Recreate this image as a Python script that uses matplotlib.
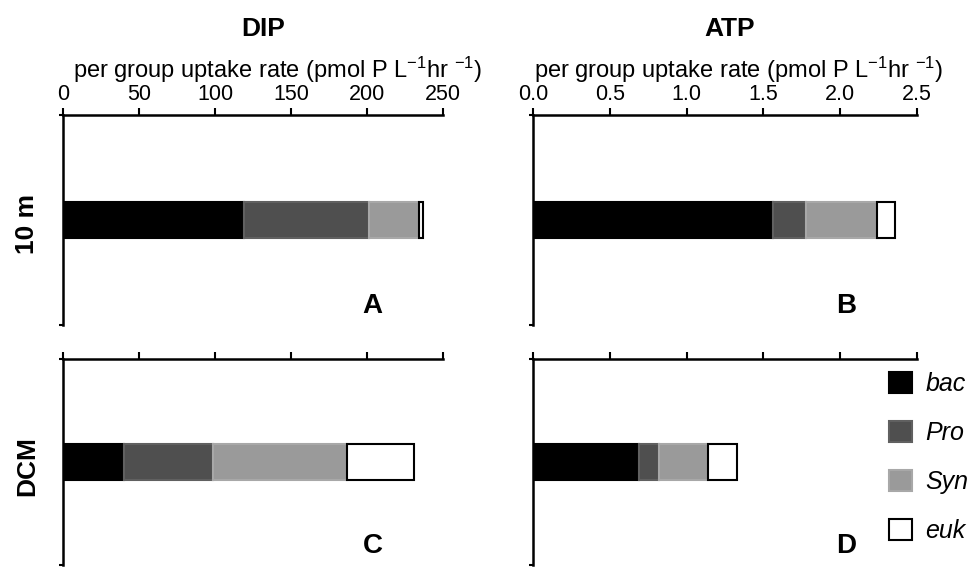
import matplotlib
matplotlib.use("Agg")
import matplotlib.pyplot as plt
from matplotlib.patches import Patch

plt.rcParams['font.family'] = ['Liberation Sans', 'DejaVu Sans']
plt.rcParams['mathtext.fontset'] = 'custom'
plt.rcParams['mathtext.rm'] = 'Liberation Sans'
plt.rcParams['mathtext.it'] = 'Liberation Sans:italic'
plt.rcParams['mathtext.bf'] = 'Liberation Sans:bold'

# groups and values (pmol P L-1 hr-1)
groups = ['bac', 'Pro', 'Syn', 'euk']
colors = ['#000000', '#4f4f4f', '#9a9a9a', '#ffffff']
edges = ['#000000', '#606060', '#a8a8a8', '#000000']

dip_10m = [119, 82, 33, 3]
atp_10m = [1.56, 0.22, 0.46, 0.12]
dip_dcm = [40, 59, 88, 44]
atp_dcm = [0.69, 0.13, 0.32, 0.19]

dip_ticks = [0, 50, 100, 150, 200, 250]
dip_labels = ['0', '50', '100', '150', '200', '250']
atp_ticks = [0.0, 0.5, 1.0, 1.5, 2.0, 2.5]
atp_labels = ['0.0', '0.5', '1.0', '1.5', '2.0', '2.5']

W, H = 971, 569
fig = plt.figure(figsize=(W / 100, H / 100), dpi=100)


def box(x0, x1, ytop, ybot):
    return [x0 / W, 1 - ybot / H, (x1 - x0) / W, (ybot - ytop) / H]


ax_a = fig.add_axes(box(63, 443, 115, 325))
ax_b = fig.add_axes(box(533, 917, 115, 325))
ax_c = fig.add_axes(box(63, 443, 359, 565))
ax_d = fig.add_axes(box(533, 917, 359, 565))

panels = [
    (ax_a, dip_10m, dip_ticks, dip_labels, 'A', True),
    (ax_b, atp_10m, atp_ticks, atp_labels, 'B', True),
    (ax_c, dip_dcm, dip_ticks, dip_labels, 'C', False),
    (ax_d, atp_dcm, atp_ticks, atp_labels, 'D', False),
]

for ax, vals, ticks, labels, letter, show_labels in panels:
    left = 0
    for v, c, e in zip(vals, colors, edges):
        ax.barh(0.5, v, left=left, height=0.175, color=c, edgecolor=e,
                linewidth=1.5, zorder=3)
        left += v
    ax.set_xlim(ticks[0], ticks[-1])
    ax.set_ylim(0, 1)
    ax.xaxis.tick_top()
    ax.set_xticks(ticks)
    if show_labels:
        ax.set_xticklabels(labels, fontsize=15.5)
    else:
        ax.set_xticklabels([])
    ax.set_yticks([0, 1])
    ax.set_yticklabels([])
    ax.tick_params(axis='x', direction='out', length=5, width=1.5, pad=2)
    ax.tick_params(axis='y', direction='out', length=3, width=1.5)
    for s in ['right', 'bottom']:
        ax.spines[s].set_visible(False)
    for s in ['top', 'left']:
        ax.spines[s].set_linewidth(1.8)
    ax.text(0.815, 0.09, letter, transform=ax.transAxes, fontsize=20,
            fontweight='bold', ha='center', va='center')

sub = r'per group uptake rate (pmol P L$^{-1}$hr $^{-1}$)'
fig.text(263 / W, 1 - 29 / H, 'DIP', fontsize=19, fontweight='bold',
         ha='center', va='center')
fig.text(730 / W, 1 - 29 / H, 'ATP', fontsize=19, fontweight='bold',
         ha='center', va='center')
fig.text(278 / W, 1 - 70 / H, sub, fontsize=17, ha='center', va='center')
fig.text(739 / W, 1 - 70 / H, sub, fontsize=17, ha='center', va='center')

fig.text(27 / W, 1 - 224 / H, '10 m', fontsize=19, fontweight='bold',
         rotation=90, ha='center', va='center')
fig.text(27 / W, 1 - 466 / H, 'DCM', fontsize=19, fontweight='bold',
         rotation=90, ha='center', va='center')

handles = [Patch(facecolor=c, edgecolor=e, linewidth=1.5)
           for c, e in zip(colors, edges)]
leg = fig.legend(handles, groups, loc='upper left',
                 bbox_to_anchor=(889 / W, 1 - 372 / H), frameon=False,
                 prop={'style': 'italic', 'size': 18}, handlelength=0.9,
                 handleheight=0.9, labelspacing=1.0, handletextpad=0.55,
                 borderpad=0, borderaxespad=0)

fig.savefig('out.png', dpi=100)
